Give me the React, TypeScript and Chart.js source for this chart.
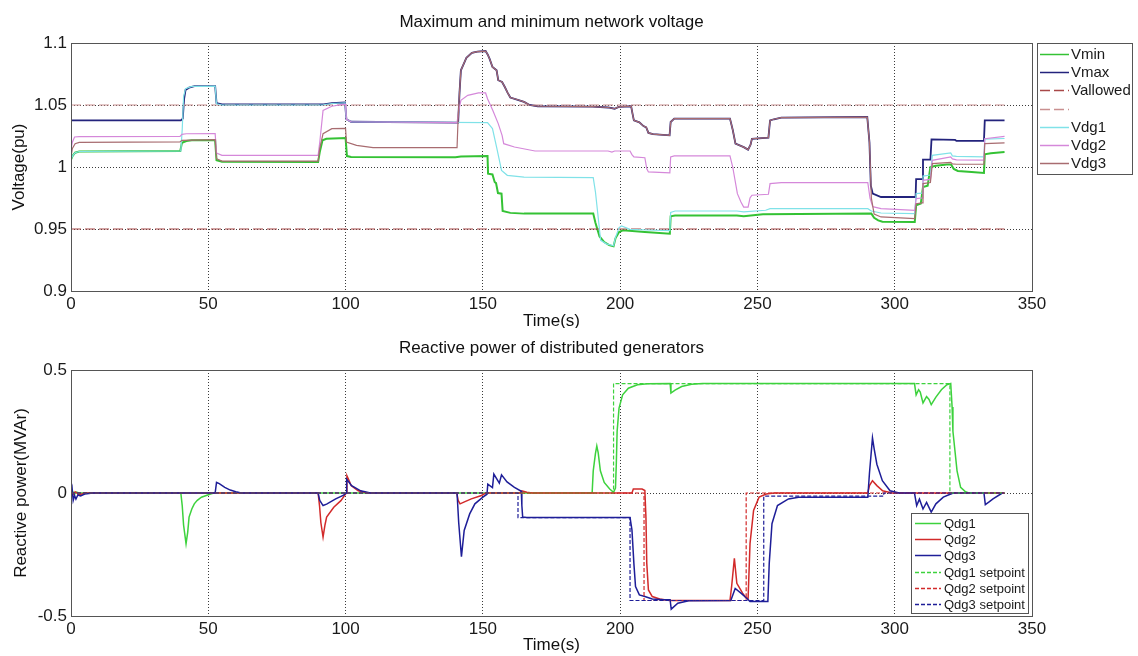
import { useEffect, useRef } from 'react';
import { Chart, registerables } from 'chart.js';

Chart.register(...registerables);

const FONT = '"Liberation Sans", Arial, Helvetica, sans-serif';

// ---------- axis ticks ----------
const timeTicks = [0, 50, 100, 150, 200, 250, 300, 350];
const voltageTicks = [0.9, 0.95, 1, 1.05, 1.1];
const powerTicks = [-0.5, 0, 0.5];

// ---------- top panel: voltages [time s, voltage pu] ----------
const vminData = [[0,1.006],[0.6,1.009],[1.5,1.0115],[3,1.0125],[39.8,1.0129],[40.4,1.0195],[42,1.021],[44,1.0215],[52.5,1.0215],[53,1.0055],[55,1.0042],[90,1.004],[90.6,1.012],[91.6,1.0215],[93,1.0228],[100,1.0234],[100.5,1.0088],[102,1.008],[140,1.0078],[142,1.0085],[151.7,1.0089],[151.9,0.9946],[153.5,0.994],[154.3,0.9879],[154.8,0.987],[155.5,0.979],[156.8,0.9785],[157.2,0.9645],[160,0.963],[165,0.9624],[190.2,0.9624],[191,0.955],[192.5,0.944],[194.2,0.9395],[196,0.937],[197.6,0.936],[198.3,0.9425],[199.6,0.9476],[201,0.9489],[209,0.9476],[218.1,0.9462],[218.4,0.9602],[220,0.9608],[242.5,0.9608],[245,0.9602],[252,0.9618],[291.5,0.9624],[292.5,0.959],[294,0.957],[295.5,0.9558],[307.3,0.9556],[307.8,0.9691],[309.5,0.9705],[310.3,0.9839],[312,0.985],[313,1.0],[315,1.001],[319,1.002],[320.5,1.002],[321.5,0.9985],[323,0.9968],[328,0.996],[332.5,0.9952],[332.8,1.0102],[335,1.011],[340,1.012]];
const vmaxData = [[0,1.0376],[40,1.0376],[40.7,1.039],[41.2,1.055],[41.7,1.062],[43,1.064],[45,1.0653],[52.5,1.0653],[53,1.0515],[55,1.0505],[92,1.0505],[95,1.0515],[99.8,1.052],[100.3,1.0385],[102,1.0365],[141,1.0358],[141.5,1.06],[142,1.078],[143,1.083],[144,1.088],[146,1.092],[148,1.093],[151,1.0935],[151.8,1.0906],[152.5,1.087],[153.5,1.0806],[155,1.078],[155.6,1.07],[157,1.0685],[158,1.0645],[159,1.06],[160,1.056],[163,1.054],[165,1.0525],[167,1.05],[170,1.049],[190,1.0487],[195.6,1.048],[198,1.047],[199.5,1.0485],[204,1.049],[204.5,1.043],[205,1.0376],[207,1.036],[208.5,1.033],[209.5,1.032],[210.3,1.0275],[212,1.0265],[218,1.0255],[218.4,1.0363],[219.7,1.039],[240,1.039],[241,1.03],[242,1.0188],[245,1.016],[246.6,1.014],[247.5,1.018],[248,1.0228],[254,1.0237],[254.6,1.0376],[256,1.0385],[258.7,1.0398],[290,1.0403],[290.8,1.02],[291.3,0.985],[292,0.9785],[295,0.9758],[307.6,0.9758],[307.8,0.9903],[310,0.9903],[310.3,1.0059],[313,1.0059],[313.4,1.0223],[322,1.0218],[322.5,1.021],[332.5,1.021],[332.8,1.0376],[340,1.0376]];
const vAllowedLow = [[0,0.95],[340,0.95]];
const vAllowedHigh = [[0,1.05],[340,1.05]];
const vdg1Data = [[0,1.006],[0.6,1.009],[1.5,1.0115],[3,1.0125],[40,1.0129],[40.5,1.03],[41,1.0565],[41.7,1.0632],[44,1.065],[52.5,1.0653],[53,1.051],[55,1.05],[90,1.05],[92,1.0502],[95,1.0512],[99.8,1.0518],[100.3,1.0385],[102,1.0365],[151.7,1.0358],[153.5,1.031],[155,1.0161],[156.8,0.9973],[158.9,0.9933],[165,0.9918],[190.2,0.9914],[191,0.98],[192.9,0.9409],[195,0.938],[197.6,0.9365],[198.3,0.943],[199.6,0.9511],[200.5,0.9524],[203.6,0.9497],[210,0.9492],[218.1,0.9487],[218.4,0.9634],[220,0.9645],[242.5,0.9645],[245,0.9638],[253,0.9651],[254.6,0.9664],[290.2,0.9664],[291.5,0.9645],[295,0.9629],[307.3,0.9624],[307.8,0.9785],[310,0.979],[310.3,0.9927],[313,0.9935],[313.7,1.0094],[320.4,1.0113],[321,1.009],[322.5,1.0085],[332.5,1.0082],[332.8,1.0225],[340,1.023]];
const vdg2Data = [[0,1.0145],[0.5,1.02],[1.3,1.0242],[3,1.0245],[39.7,1.0247],[40.4,1.0263],[42,1.0268],[52.5,1.0269],[53,1.0113],[55,1.0094],[90,1.0094],[90.6,1.02],[91.8,1.0457],[95,1.049],[99,1.0505],[100,1.0505],[100.3,1.0385],[102,1.0365],[140.6,1.0358],[141.2,1.045],[142,1.0538],[144.5,1.0578],[148.4,1.0597],[151,1.0597],[151.7,1.055],[153.6,1.0457],[155.6,1.035],[157,1.0255],[157.6,1.0188],[161.5,1.0161],[169,1.0129],[195.6,1.0129],[197,1.012],[198,1.0129],[203.6,1.0129],[204.3,1.01],[205,1.0081],[209,1.0075],[209.7,0.9985],[210.3,0.996],[218.1,0.9952],[218.4,1.0081],[219.7,1.0089],[240,1.0089],[241,1.0],[242.7,0.9785],[244,0.9718],[245,0.9677],[246.6,0.9677],[247.3,0.975],[248,0.9772],[254,0.978],[254.6,0.9866],[258.7,0.9874],[290.2,0.9874],[291,0.975],[292,0.968],[295,0.9664],[307.3,0.9651],[307.8,0.9745],[310,0.975],[310.3,0.9892],[313,0.99],[313.7,1.0054],[320.4,1.0081],[321,1.0065],[322.5,1.0058],[332.5,1.0055],[332.8,1.0228],[340,1.0247]];
const vdg3Data = [[0,1.008],[0.5,1.015],[1.5,1.0188],[3,1.0198],[39.7,1.0202],[40.4,1.0215],[52.5,1.022],[53,1.0067],[55,1.0048],[90,1.0048],[90.6,1.015],[91.8,1.0269],[95,1.0309],[100,1.0312],[100.3,1.0202],[104,1.0175],[110,1.0156],[140.6,1.0156],[141,1.04],[141.5,1.06],[142,1.078],[143,1.083],[144,1.088],[146,1.092],[148,1.093],[151,1.0935],[151.8,1.0906],[152.5,1.087],[153.5,1.0806],[155,1.078],[155.6,1.07],[157,1.0685],[158,1.0645],[159,1.06],[160,1.056],[163,1.054],[165,1.0525],[167,1.05],[170,1.049],[190,1.0487],[195.6,1.048],[198,1.047],[199.5,1.0485],[204,1.049],[204.5,1.043],[205,1.0376],[207,1.036],[208.5,1.033],[209.5,1.032],[210.3,1.0275],[212,1.0265],[218,1.0255],[218.4,1.0363],[219.7,1.039],[240,1.039],[241,1.03],[242,1.0188],[245,1.016],[246.6,1.014],[247.5,1.018],[248,1.0228],[254,1.0237],[254.6,1.0376],[256,1.0385],[258.7,1.0398],[290,1.0403],[290.8,1.02],[291.5,0.975],[292.5,0.962],[295,0.9597],[307.3,0.9583],[307.8,0.9704],[310,0.971],[310.3,0.9866],[313,0.9875],[313.7,1.0027],[320.4,1.0038],[321,1.0025],[322.5,1.0022],[332.5,1.0022],[332.8,1.0188],[340,1.0194]];

// ---------- bottom panel: reactive power [time s, MVAr] ----------
const qdg1Data = [[0,0],[0.5,0.008],[1.2,-0.006],[2,0.004],[3,0],[40,0],[40.5,-0.05],[41,-0.13],[41.9,-0.206],[42.5,-0.16],[43,-0.098],[44,-0.065],[44.9,-0.044],[46,-0.03],[47.5,-0.017],[50.8,-0.004],[52,0],[189.8,0],[190.2,0.09],[191,0.16],[191.5,0.191],[192,0.164],[192.8,0.09],[194.2,0.043],[196.2,0.016],[197.6,0.003],[198.3,0.02],[198.6,0.117],[198.9,0.251],[199.6,0.345],[200.9,0.399],[203,0.426],[206.3,0.44],[210,0.444],[218.2,0.445],[218.5,0.406],[220,0.418],[222.4,0.433],[226,0.442],[230,0.445],[307.2,0.445],[307.8,0.399],[308.7,0.42],[309.3,0.41],[310.3,0.366],[311.6,0.392],[312.5,0.38],[313.3,0.359],[315,0.39],[317,0.42],[319,0.44],[320.4,0.445],[320.9,0.35],[321.2,0.251],[322.7,0.09],[324,0.023],[325.8,0.005],[327,0],[340,0]];
const qdg2Data = [[0,0],[0.5,-0.01],[1.5,0.005],[3,-0.008],[5,0],[90,0],[90.5,-0.05],[91,-0.12],[91.8,-0.179],[92.5,-0.13],[93.1,-0.098],[95.7,-0.058],[98.3,-0.031],[99.6,-0.011],[100.2,0],[100.5,0.07],[101.5,0.045],[102,0.03],[104.6,0.009],[108,0],[140.5,0],[141,-0.03],[141.7,-0.044],[143.5,-0.035],[145.8,-0.024],[149.5,-0.01],[151,0],[163.5,0],[164.2,0.009],[166,0.003],[168,0],[204.3,0],[204.8,0.016],[208,0.016],[209,0.01],[209.4,-0.1],[209.7,-0.286],[210.3,-0.394],[211.7,-0.421],[214.4,-0.431],[218,-0.437],[240,-0.437],[240.6,-0.38],[241.6,-0.266],[242.5,-0.367],[244.6,-0.407],[245.9,-0.427],[246.6,-0.43],[247.3,-0.206],[248.6,-0.071],[250.6,-0.017],[253.2,-0.004],[256,0],[290.2,0],[290.8,0.03],[291.9,0.05],[293.5,0.03],[295.6,0.009],[299,0],[340,0]];
const qdg3Data = [[0,0],[0.4,0.02],[0.8,-0.03],[1.3,-0.01],[1.8,-0.025],[2.5,-0.008],[3.5,-0.012],[5,-0.004],[8,0],[52.5,0],[53,0.043],[54,0.038],[56,0.023],[58,0.012],[60,0.005],[62,0],[90,0],[90.6,-0.03],[91.8,-0.051],[93.1,-0.045],[96.4,-0.024],[99.1,-0.01],[100.2,0],[100.4,0.056],[102.2,0.03],[105.5,0.009],[109,0],[140.6,0],[141.2,-0.12],[142.2,-0.259],[143.2,-0.152],[145.2,-0.085],[147.1,-0.044],[150,-0.017],[151.5,-0.005],[151.8,0.036],[153.5,0.022],[154,0.077],[156,0.04],[156.8,0.074],[158.8,0.045],[161.5,0.023],[164,0.007],[164.2,-0.05],[164.5,-0.098],[166,-0.1],[203.6,-0.1],[204.3,-0.15],[205,-0.286],[205.6,-0.38],[207,-0.414],[209,-0.421],[211.7,-0.431],[215.7,-0.434],[218.2,-0.434],[218.6,-0.472],[221,-0.448],[225,-0.438],[240.3,-0.437],[241.9,-0.388],[244,-0.407],[246,-0.427],[247.3,-0.441],[253.8,-0.441],[254.3,-0.286],[255.3,-0.125],[257.3,-0.051],[261.3,-0.024],[265,-0.017],[290.2,-0.017],[290.8,0.08],[291.9,0.224],[292.5,0.18],[293.5,0.117],[295.5,0.05],[298.3,0.009],[301.6,0],[307.2,0],[308,-0.051],[309,-0.025],[310.3,-0.065],[311.6,-0.038],[313.3,-0.078],[315,-0.044],[317.7,-0.017],[320.4,-0.004],[321.3,0],[332.5,0],[333,-0.047],[334.5,-0.035],[335.8,-0.024],[339.2,0]];
const qdg1Setpoint = [[0,0],[197.6,0],[197.6,0.445],[320.1,0.445],[320.1,0],[340,0]];
const qdg2Setpoint = [[0,0],[208.7,0],[208.7,-0.437],[245.9,-0.437],[245.9,0],[340,0]];
const qdg3Setpoint = [[0,0],[162.8,0],[162.8,-0.1],[203.6,-0.1],[203.6,-0.437],[252.3,-0.437],[252.3,-0.013],[296,-0.013],[296,0],[340,0]];

const toXY = (arr: number[][]) => arr.map(([x, y]) => ({ x, y }));

type Series = { label: string; data: number[][]; color: string; width: number; dash?: number[] };

const topSeries: Series[] = [
  { label: 'Vmin', data: vminData, color: '#34c234', width: 2 },
  { label: 'Vmax', data: vmaxData, color: '#23237c', width: 1.8 },
  { label: 'Vallowed', data: vAllowedLow, color: '#a84848', width: 1.2, dash: [10, 4] },
  { label: '', data: vAllowedHigh, color: '#c99090', width: 1.2, dash: [10, 4] },
  { label: 'Vdg1', data: vdg1Data, color: '#80e2e8', width: 1.2 },
  { label: 'Vdg2', data: vdg2Data, color: '#d588da', width: 1.2 },
  { label: 'Vdg3', data: vdg3Data, color: '#a86c70', width: 1.2 },
];

const bottomSeries: Series[] = [
  { label: 'Qdg1', data: qdg1Data, color: '#3dd23d', width: 1.5 },
  { label: 'Qdg2', data: qdg2Data, color: '#d22a2a', width: 1.5 },
  { label: 'Qdg3', data: qdg3Data, color: '#1e1e98', width: 1.5 },
  { label: 'Qdg1 setpoint', data: qdg1Setpoint, color: '#3dd23d', width: 1.2, dash: [4, 2] },
  { label: 'Qdg2 setpoint', data: qdg2Setpoint, color: '#d22a2a', width: 1.2, dash: [4, 2] },
  { label: 'Qdg3 setpoint', data: qdg3Setpoint, color: '#1e1e98', width: 1.2, dash: [4, 2] },
];

type Panel = {
  title: string; xTitle: string; yTitle: string;
  titleY: number; xTitleY: number; yTitleX: number;
  yTicks: number[]; series: Series[];
  area: { top: number; bottom: number; left: number; right: number };
  height: number;
  legend: { x: number; y: number; w: number; h: number; firstY: number; step: number; lineX0: number; lineX1: number; textX: number; fontSize: number };
};

const topPanel: Panel = {
  title: 'Maximum and minimum network voltage', xTitle: 'Time(s)', yTitle: 'Voltage(pu)',
  titleY: 22, xTitleY: 321, yTitleX: 19,
  yTicks: voltageTicks, series: topSeries,
  area: { top: 43, bottom: 291, left: 71, right: 1032 },
  height: 328,
  legend: { x: 1037, y: 43, w: 95, h: 131, firstY: 54, step: 18.2, lineX0: 1040, lineX1: 1069, textX: 1071, fontSize: 15 },
};

const bottomPanel: Panel = {
  title: 'Reactive power of distributed generators', xTitle: 'Time(s)', yTitle: 'Reactive power(MVAr)',
  titleY: 20, xTitleY: 317, yTitleX: 21,
  yTicks: powerTicks, series: bottomSeries,
  area: { top: 42, bottom: 288, left: 71, right: 1032 },
  height: 328,
  legend: { x: 911, y: 185, w: 117, h: 100, firstY: 195, step: 16.2, lineX0: 915, lineX1: 941, textX: 944, fontSize: 13 },
};

function makeDecor(p: Panel) {
  return {
    id: 'matlabDecor',
    afterDraw(chart: any) {
      const { ctx, chartArea: a } = chart;
      ctx.save();
      // frame
      ctx.setLineDash([]);
      ctx.strokeStyle = '#555';
      ctx.lineWidth = 1;
      ctx.strokeRect(Math.round(a.left) + 0.5, Math.round(a.top) + 0.5, Math.round(a.right - a.left), Math.round(a.bottom - a.top));
      // titles
      ctx.fillStyle = '#111';
      ctx.font = `17px ${FONT}`;
      ctx.textAlign = 'center';
      ctx.textBaseline = 'middle';
      const cx = (a.left + a.right) / 2;
      ctx.fillText(p.title, cx, p.titleY);
      ctx.fillText(p.xTitle, cx, p.xTitleY);
      ctx.save();
      ctx.translate(p.yTitleX, (a.top + a.bottom) / 2);
      ctx.rotate(-Math.PI / 2);
      ctx.fillText(p.yTitle, 0, 0);
      ctx.restore();
      // legend
      const L = p.legend;
      ctx.fillStyle = '#fff';
      ctx.fillRect(L.x, L.y, L.w, L.h);
      ctx.strokeStyle = '#555';
      ctx.strokeRect(L.x + 0.5, L.y + 0.5, L.w, L.h);
      ctx.font = `${L.fontSize}px ${FONT}`;
      ctx.textAlign = 'left';
      chart.data.datasets.forEach((ds: any, i: number) => {
        const y = Math.round(L.firstY + i * L.step);
        ctx.strokeStyle = ds.borderColor;
        ctx.lineWidth = 1.5;
        ctx.setLineDash(ds.borderDash || []);
        ctx.beginPath();
        ctx.moveTo(L.lineX0, y + 0.5);
        ctx.lineTo(L.lineX1, y + 0.5);
        ctx.stroke();
        ctx.setLineDash([]);
        ctx.fillStyle = '#1a1a1a';
        if (ds.label) ctx.fillText(ds.label, L.textX, y + 1);
      });
      ctx.restore();
    },
  };
}

function gridColor(ticks: number[]) {
  const lo = ticks[0];
  const hi = ticks[ticks.length - 1];
  return (c: any) => {
    const v = c.tick ? c.tick.value : NaN;
    return v === lo || v === hi ? 'rgba(0,0,0,0)' : '#3a3a3a';
  };
}

function buildConfig(p: Panel): any {
  const W = 1138;
  return {
    type: 'line',
    data: {
      datasets: p.series.map((s, i) => ({
        label: s.label,
        data: toXY(s.data),
        borderColor: s.color,
        backgroundColor: s.color,
        borderWidth: s.width,
        borderDash: s.dash || [],
        pointRadius: 0,
        tension: 0,
        fill: false,
        order: -i,
      })),
    },
    options: {
      responsive: false,
      animation: false,
      events: [],
      layout: { padding: { top: p.area.top, left: 0, right: W - p.area.right, bottom: 0 } },
      plugins: { legend: { display: false }, tooltip: { enabled: false }, title: { display: false } },
      scales: {
        x: {
          type: 'linear',
          min: 0,
          max: 350,
          afterBuildTicks: (s: any) => { s.ticks = timeTicks.map((v) => ({ value: v })); },
          afterFit: (s: any) => { s.height = p.height - p.area.bottom; },
          ticks: { color: '#1a1a1a', font: { family: FONT, size: 17 }, padding: 3, maxRotation: 0, autoSkip: false, callback: (v: any) => String(v) },
          grid: { color: gridColor(timeTicks), lineWidth: 1, drawTicks: false },
          border: { display: false, dash: [1, 2] },
        },
        y: {
          type: 'linear',
          min: p.yTicks[0],
          max: p.yTicks[p.yTicks.length - 1],
          afterBuildTicks: (s: any) => { s.ticks = p.yTicks.map((v) => ({ value: v })); },
          afterFit: (s: any) => { s.width = p.area.left; },
          ticks: { color: '#1a1a1a', font: { family: FONT, size: 17 }, padding: 4, autoSkip: false, callback: (v: any) => String(v) },
          grid: { color: gridColor(p.yTicks), lineWidth: 1, drawTicks: false },
          border: { display: false, dash: [1, 2] },
        },
      },
    },
    plugins: [makeDecor(p)],
  };
}

function PanelChart({ panel }: { panel: Panel }) {
  const ref = useRef<HTMLCanvasElement | null>(null);
  useEffect(() => {
    if (!ref.current) return;
    const chart = new Chart(ref.current, buildConfig(panel));
    return () => chart.destroy();
  }, [panel]);
  return <canvas ref={ref} width={1138} height={panel.height} style={{ display: 'block', width: 1138, height: panel.height }} />;
}

export default function App() {
  return (
    <div style={{ position: 'absolute', left: 0, top: 0, width: 1138, height: 656, background: '#fff', overflow: 'hidden' }}>
      <PanelChart panel={topPanel} />
      <PanelChart panel={bottomPanel} />
    </div>
  );
}
